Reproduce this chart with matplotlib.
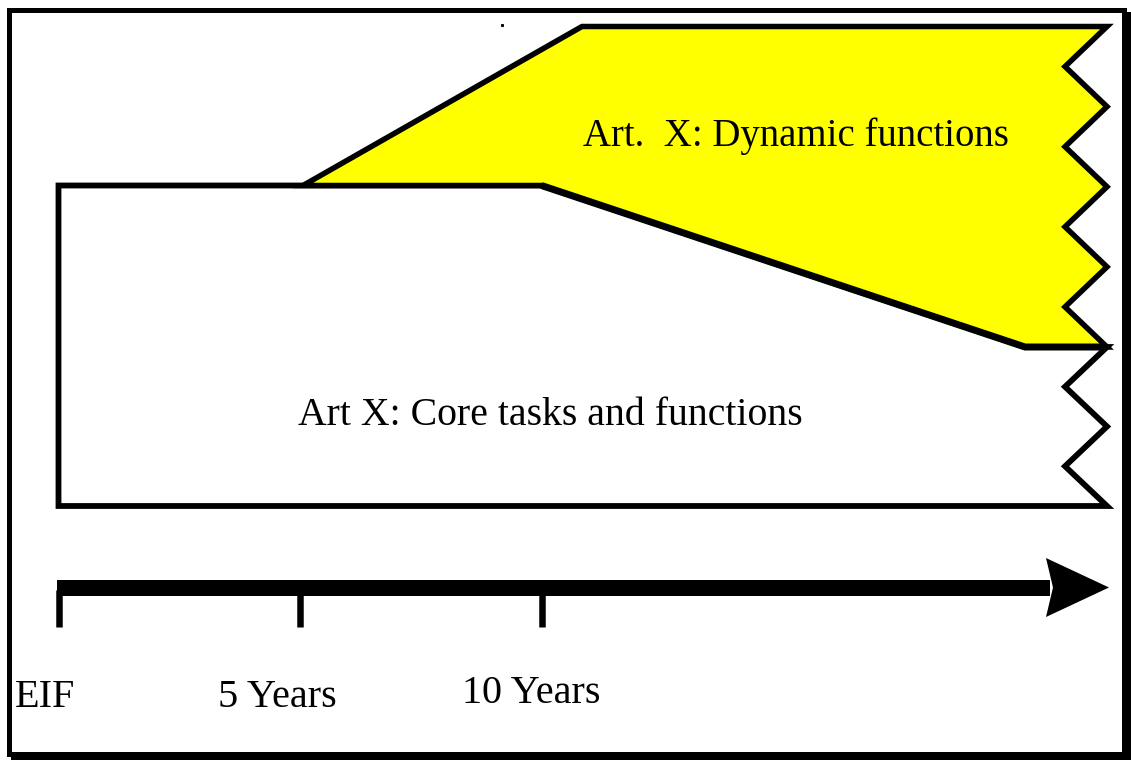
import numpy as np
import matplotlib.pyplot as plt
from matplotlib.patches import Polygon, Rectangle

# timeline milestones
milestone_years = [0, 5, 10]
milestone_labels = ["EIF", "5 Years", "10 Years"]
label_left = [15, 218, 462]
label_base = [707, 707, 703]

# box labels
core_label = "Art X: Core tasks and functions"
dyn_label = "Art.  X: Dynamic functions"

PX = 0.72  # points per pixel at dpi 100
x0 = 58.5
px_per_year = 48.3


def yr(y):
    return x0 + px_per_year * y


def zigzag(y_top, y_bot, n, x_out=1107, x_in=1065):
    ys = np.linspace(y_top, y_bot, n + 1)
    return [(x_out if i % 2 == 0 else x_in, y) for i, y in enumerate(ys)]


fig = plt.figure(figsize=(11.31, 7.6), dpi=100)
ax = fig.add_axes([0, 0, 1, 1])
ax.set_xlim(0, 1131)
ax.set_ylim(760, 0)
ax.axis("off")

# frame with drop shadow
ax.add_patch(Rectangle((12.5, 13.5), 1115.5, 744, fill=False, lw=5 * PX,
                       ec="black", joinstyle="miter"))
ax.add_patch(Rectangle((8.5, 9.5), 1115.5, 744, fc="white", lw=5 * PX,
                       ec="black", joinstyle="miter"))

# core tasks box (white)
core = [(x0, 185.5), (yr(10), 185.5), (1025, 347)] + zigzag(347, 506, 4) + [(x0, 506)]
ax.add_patch(Polygon(core, closed=True, fc="white", ec="black", lw=5.8 * PX,
                     joinstyle="miter"))

# dynamic functions (yellow)
dyn = [(yr(5) + 3, 185.5), (582, 26.5)] + zigzag(26.5, 347, 8) + [(1025, 347), (yr(10), 185.5)]
ax.add_patch(Polygon(dyn, closed=True, fc="#ffff00", ec="black", lw=5.5 * PX,
                     joinstyle="miter"))
# heavier lower edge of the yellow region
ax.plot([yr(10), 1025, 1105], [185.5, 347, 347], color="black", lw=7 * PX,
        solid_joinstyle="miter", solid_capstyle="butt")
ax.plot([502], [25], marker="s", ms=1.2, color="black")

ax.text(583, 146, dyn_label, fontsize=27.9, family="Liberation Serif",
        va="baseline", ha="left")
ax.text(298, 425, core_label, fontsize=28.6, family="Liberation Serif",
        va="baseline", ha="left")

# timeline arrow
ax.add_patch(Rectangle((x0 - 2, 580), 1052 - x0, 15.5, fc="black", ec="none"))
ax.add_patch(Polygon([(1046, 558), (1109, 587.5), (1046, 617), (1053, 587.5)],
                     closed=True, fc="black", ec="none"))

for y, lab, lx, lb in zip(milestone_years, milestone_labels, label_left, label_base):
    ax.plot([yr(y), yr(y)], [590, 627], color="black", lw=6.5 * PX,
            solid_capstyle="butt")
    ax.text(lx, lb, lab, fontsize=29, family="Liberation Serif",
            va="baseline", ha="left")

fig.savefig("out.png", dpi=100)
